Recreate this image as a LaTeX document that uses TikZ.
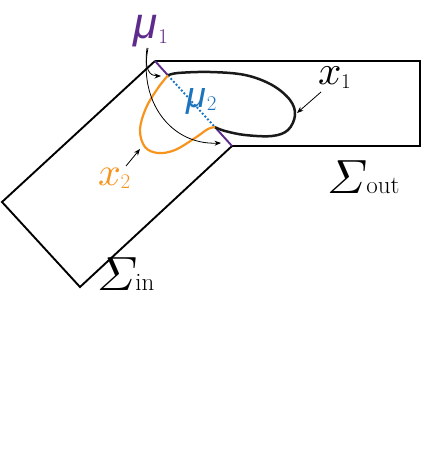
\documentclass[tikz,border=0pt]{standalone}
\usepackage{amsmath}
\usepackage{graphicx}
\usepackage{fontspec}
\newfontfamily\mufont{Liberation Sans}
\usetikzlibrary{arrows.meta}
\definecolor{mupurple}{HTML}{5E2A8C}
\definecolor{mublue}{HTML}{1C75BC}
\definecolor{xorange}{HTML}{F7941E}
\newcommand\subsz[2]{\raisebox{#1}{\fontsize{21}{21}\selectfont #2}}
\tikzset{
  edge/.style={line width=1.9pt, line join=miter},
  lbl/.style={inner sep=0pt, anchor=base west},
  ptr/.style={line width=0.8pt, -{Stealth[length=6.5pt,width=5pt]}},
}
\begin{document}
\begin{tikzpicture}[x=1pt,y=-1pt]
\useasboundingbox (0,0) rectangle (424,468);
% corners
\coordinate (A) at (155,61);
\coordinate (B) at (232,146);
\coordinate (P) at (168,75.4);
\coordinate (Q) at (215,127.2);
% outgoing region
\draw[edge] (A) -- (420,61) -- (420,146) -- (B);
% incoming region
\draw[edge] (A) -- (2,202) -- (80,287) -- (B);
% interface
\draw[line width=1.9pt, mupurple] (A) -- (P);
\draw[line width=1.9pt, mupurple] (Q) -- (B);
\draw[line width=1.9pt, mublue, dotted] (P) -- (Q);
% loops
\draw[line width=2.5pt, black!90] plot[smooth, tension=0.6] coordinates {(168,75.4) (178,73) (210,72) (245,75) (272,85) (290,100) (295,115) (288,130) (272,136) (245,135) (225,131) (215,127.2)};
\draw[line width=2.2pt, xorange] plot[smooth, tension=0.6] coordinates {(168,75.4) (158,88) (146,108) (140,130) (145,147) (158,153) (175,150) (195,138) (208,129) (215,127.2)};
% labels
\node[lbl, text=mupurple] (mu1) at (133,39) {{\mufont\itshape\fontsize{44}{44}\selectfont μ}\kern1pt\subsz{-4.5pt}{1}};
\node[lbl, text=mublue] (mu2) at (186,107) {{\mufont\itshape\fontsize{36}{36}\selectfont μ}\kern1pt\subsz{-3.5pt}{2}};
\node[lbl] (x1) at (318,85) {\scalebox{4.1}{$x$}\kern-0.5pt\subsz{-3pt}{1}};
\node[lbl, text=xorange] (x2) at (98,185) {\scalebox{4.0}{$x$}\kern-0.5pt\subsz{-3pt}{2}};
\node[lbl] (So) at (327,193) {\scalebox{4.8}{$\varSigma$}\kern-1pt{\fontsize{25}{25}\selectfont out}};
\node[lbl] (Si) at (97,290) {\scalebox{4.8}{$\varSigma$}\kern-2pt{\fontsize{25}{25}\selectfont in}};
% pointers
\coordinate (m1a) at (147,48);
\coordinate (m1b) at (148,48);
\coordinate (t1) at (161,76);
\coordinate (t2) at (221,143);
\draw[ptr] (m1a) .. controls (144,70) and (150,76) .. (t1);
\draw[ptr] (m1b) .. controls (138,100) and (170,145) .. (t2);
\coordinate (x1f) at (321,92);
\coordinate (x1t) at (297,113);
\draw[ptr] (x1f) -- (x1t);
\coordinate (x2f) at (126,166);
\coordinate (x2t) at (140,149);
\draw[ptr] (x2f) -- (x2t);
\end{tikzpicture}
\end{document}
